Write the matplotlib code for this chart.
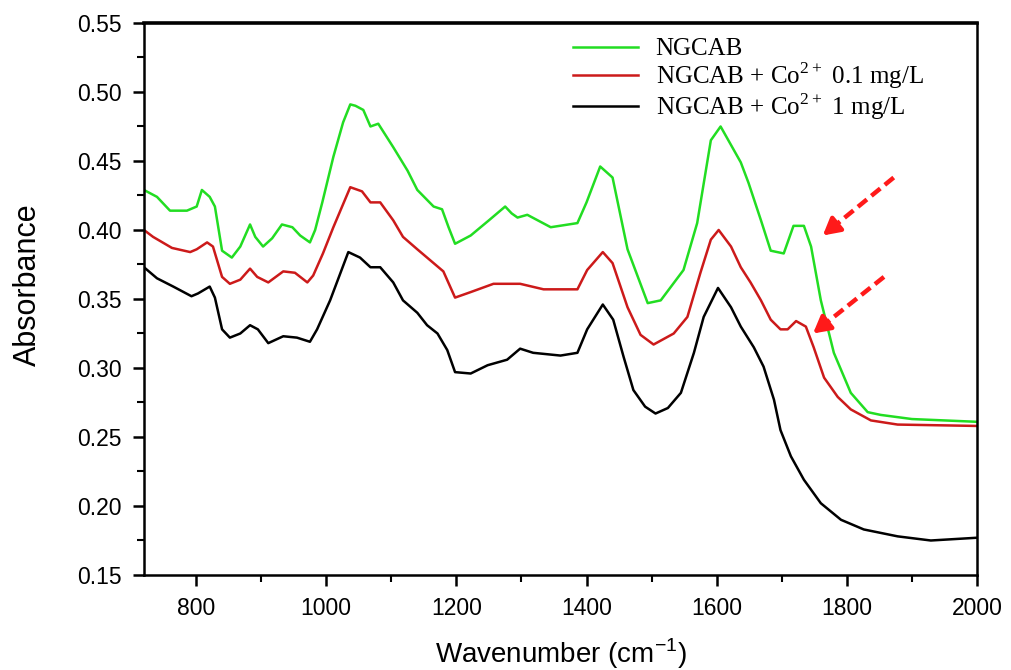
import numpy as np
import matplotlib.pyplot as plt
from matplotlib.ticker import MultipleLocator

# Dane
wn_g = [720, 740, 760, 786, 801, 809, 821, 829, 840, 855, 868, 883, 891, 903, 917, 932, 948, 960, 975, 983,
        994, 1011, 1026, 1037, 1045, 1057, 1068, 1080, 1103, 1125, 1140, 1165, 1178, 1188, 1198, 1222, 1250,
        1275, 1285, 1294, 1309, 1345, 1386, 1400, 1421, 1440, 1463, 1494, 1514, 1549, 1570, 1591, 1606, 1637,
        1649, 1668, 1683, 1703, 1718, 1734, 1745, 1760, 1780, 1806, 1832, 1852, 1900, 1950, 2000]
abs_g = [0.429, 0.424, 0.414, 0.414, 0.417, 0.429, 0.424, 0.417, 0.385, 0.380, 0.388, 0.404, 0.395, 0.388,
         0.394, 0.404, 0.402, 0.396, 0.391, 0.400, 0.420, 0.453, 0.478, 0.491, 0.490, 0.487, 0.475, 0.477,
         0.460, 0.443, 0.429, 0.417, 0.415, 0.402, 0.390, 0.396, 0.407, 0.417, 0.412, 0.409, 0.411, 0.402,
         0.405, 0.420, 0.446, 0.438, 0.386, 0.347, 0.349, 0.371, 0.405, 0.465, 0.475, 0.449, 0.434, 0.407,
         0.385, 0.383, 0.403, 0.403, 0.388, 0.349, 0.311, 0.282, 0.268, 0.266, 0.263, 0.262, 0.261]

wn_r = [720, 734, 763, 791, 801, 817, 826, 840, 852, 868, 883, 894, 911, 934, 952, 971, 980, 995, 1011, 1037,
        1055, 1068, 1083, 1103, 1118, 1140, 1160, 1180, 1198, 1222, 1257, 1298, 1334, 1386, 1401, 1425, 1440,
        1463, 1483, 1503, 1534, 1555, 1575, 1591, 1603, 1622, 1637, 1652, 1668, 1683, 1698, 1709, 1722, 1737,
        1749, 1765, 1786, 1806, 1837, 1878, 2000]
abs_r = [0.400, 0.395, 0.387, 0.384, 0.386, 0.391, 0.388, 0.366, 0.361, 0.364, 0.372, 0.366, 0.362, 0.370,
         0.369, 0.362, 0.367, 0.383, 0.402, 0.431, 0.428, 0.420, 0.420, 0.407, 0.395, 0.386, 0.378, 0.370,
         0.351, 0.355, 0.361, 0.361, 0.357, 0.357, 0.371, 0.384, 0.376, 0.344, 0.324, 0.317, 0.325, 0.337,
         0.369, 0.393, 0.400, 0.388, 0.373, 0.362, 0.349, 0.335, 0.328, 0.328, 0.334, 0.330, 0.315, 0.293,
         0.279, 0.270, 0.262, 0.259, 0.258]

wn_k = [720, 740, 765, 793, 803, 821, 829, 840, 852, 868, 883, 895, 911, 934, 955, 975, 986, 1006, 1022, 1034,
        1052, 1068, 1083, 1103, 1118, 1140, 1155, 1171, 1186, 1198, 1222, 1248, 1278, 1298, 1318, 1360, 1386,
        1401, 1425, 1441, 1457, 1472, 1490, 1506, 1525, 1545, 1565, 1580, 1602, 1622, 1637, 1657, 1672, 1688,
        1698, 1714, 1734, 1760, 1791, 1826, 1878, 1929, 2000]
abs_k = [0.373, 0.365, 0.359, 0.352, 0.354, 0.359, 0.351, 0.328, 0.322, 0.325, 0.331, 0.328, 0.318, 0.323,
         0.322, 0.319, 0.328, 0.349, 0.369, 0.384, 0.380, 0.373, 0.373, 0.362, 0.349, 0.340, 0.331, 0.325,
         0.313, 0.297, 0.296, 0.302, 0.306, 0.314, 0.311, 0.309, 0.311, 0.328, 0.346, 0.335, 0.308, 0.284,
         0.272, 0.267, 0.271, 0.282, 0.311, 0.337, 0.358, 0.344, 0.330, 0.315, 0.301, 0.277, 0.255, 0.236,
         0.219, 0.202, 0.190, 0.183, 0.178, 0.175, 0.177]

labels = ['NGCAB', r'NGCAB + Co$^{\mathregular{2+}}$ 0.1 mg/L', r'NGCAB + Co$^{\mathregular{2+}}$ 1 mg/L']

# Strzalki wskazujace pasmo ~1730 cm-1 (ogon, grot)
arrows = [((1872, 0.438), (1763, 0.396)),
          ((1857, 0.366), (1748, 0.325))]

plt.rcParams['font.family'] = ['Liberation Sans', 'DejaVu Sans']

fig = plt.figure(figsize=(10.11, 6.70), dpi=100)
ax = fig.add_axes([0.1424, 0.1418, 0.824, 0.8239])

ax.plot(wn_g, abs_g, color='#22dd22', lw=1.8, label=labels[0])
ax.plot(wn_r, abs_r, color='#cc1a1a', lw=1.8, label=labels[1])
ax.plot(wn_k, abs_k, color='black', lw=1.8, label=labels[2])

# przerywana linia + pelny grot
for tail, tip in arrows:
    mid = (tail[0] + 0.8 * (tip[0] - tail[0]), tail[1] + 0.8 * (tip[1] - tail[1]))
    ax.plot([tail[0], mid[0]], [tail[1], mid[1]], color='#ff1a1a', lw=3.2,
            linestyle=(0, (2.6, 1.3)), solid_capstyle='butt')
    ax.annotate('', xy=tip, xytext=mid,
                arrowprops=dict(arrowstyle='-|>,head_length=1.0,head_width=0.55', color='#ff1a1a',
                                lw=3.2, shrinkA=0, shrinkB=0))

ax.set_xlim(720, 2000)
ax.set_ylim(0.15, 0.55)
ax.xaxis.set_major_locator(MultipleLocator(200))
ax.xaxis.set_minor_locator(MultipleLocator(100))
ax.yaxis.set_major_locator(MultipleLocator(0.05))
ax.yaxis.set_minor_locator(MultipleLocator(0.025))
ax.yaxis.set_major_formatter(plt.FormatStrFormatter('%.2f'))
ax.tick_params(which='major', length=8, width=1.8, labelsize=16.5, pad=8)
ax.tick_params(which='minor', length=5, width=1.5)
for s in ax.spines.values():
    s.set_linewidth(1.8)
ax.spines['top'].set_linewidth(2.6)

ax.set_xlabel(r'Wavenumber (cm$^{\mathregular{-1}}$)', fontsize=20, labelpad=12)
ax.set_ylabel('Absorbance', fontsize=22)
ax.yaxis.set_label_coords(-0.121, 0.525)

leg = ax.legend(loc='upper left', bbox_to_anchor=(0.488, 1.014), frameon=False,
                prop={'family': 'Liberation Serif', 'size': 18}, handlelength=2.6,
                handletextpad=0.7, labelspacing=0.0)

plt.savefig('out.png', dpi=100)
